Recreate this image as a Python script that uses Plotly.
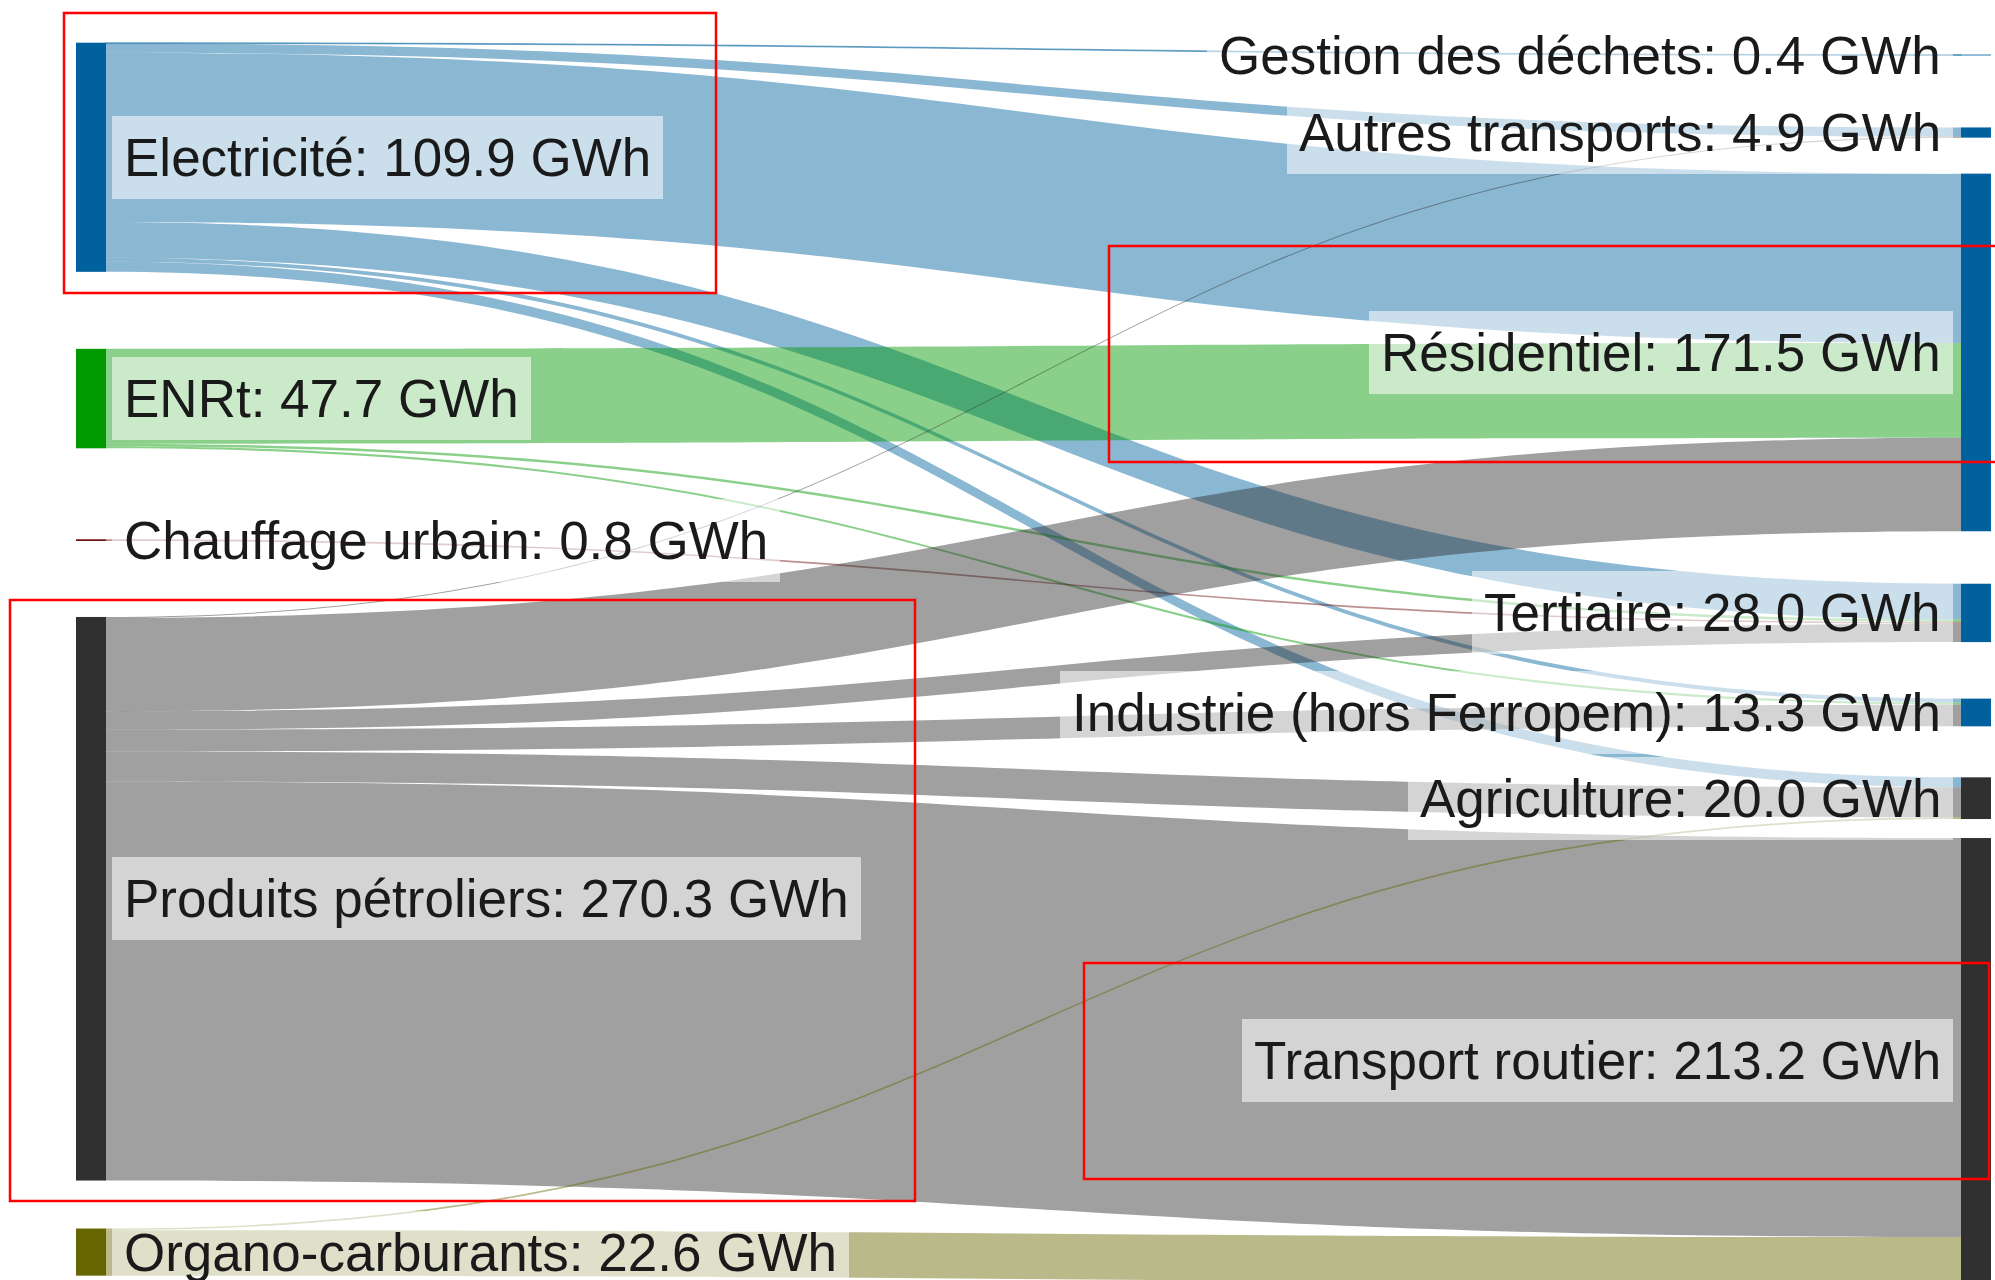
import plotly.graph_objects as go

# ---------------- data ----------------
sources = ["Electricité", "ENRt", "Chauffage urbain", "Produits pétroliers", "Organo-carburants"]
targets = ["Gestion des déchets", "Autres transports", "Résidentiel", "Tertiaire",
           "Industrie (hors Ferropem)", "Agriculture", "Transport routier"]

# flows from each source to each target (GWh), in the order of `targets`
flow_electricite = [0.4, 4.4, 81.2, 17.2, 1.9, 4.8, 0.0]
flow_enrt = [0.0, 0.0, 45.5, 1.2, 1.0, 0.0, 0.0]
flow_chauffage = [0.0, 0.0, 0.0, 0.8, 0.0, 0.0, 0.0]
flow_petrole = [0.0, 0.5, 44.8, 8.8, 10.4, 14.4, 191.4]
flow_organo = [0.0, 0.0, 0.0, 0.0, 0.0, 0.8, 21.8]
unit = "GWh"

flows = [flow_electricite, flow_enrt, flow_chauffage, flow_petrole, flow_organo]

# ---------------- styles / layout ----------------
W, H = 1995, 1280
FONT = "Liberation Sans, Arial, Helvetica, sans-serif"
source_colors = ["#00619e", "#009900", "#6b0a0a", "#303030", "#666600"]
target_colors = ["#00619e", "#00619e", "#00619e", "#00619e", "#00619e", "#303030", "#303030"]
LINK_ALPHA = 0.46
NODE_T = 30
LEFT_X_PX, RIGHT_X_PX = 91, 1976
KY = 2.085                      # px per GWh (same scale the sankey uses)
left_top = 42.7
left_gaps = [77, 91, 76, 48]
right_top = 54.6
right_gaps = [72, 36, 52.5, 56.5, 51, 19]
LABEL_PAD = 12
# highlight rectangles (px in the figure)
highlight_boxes = [(64, 13, 716, 293), (1109, 246, 1998, 462),
                   (10, 600, 915, 1201), (1084, 963, 1989, 1179)]


def hex_rgba(h, a):
    h = h.lstrip("#")
    return "rgba(%d,%d,%d,%.2f)" % (int(h[0:2], 16), int(h[2:4], 16), int(h[4:6], 16), a)


src_tot = [sum(r) for r in flows]
tgt_tot = [sum(r[j] for r in flows) for j in range(len(targets))]
total = sum(src_tot)
PAD = (H - KY * total) / (len(targets) - 1)


def centers(top, totals, gaps):
    out, y = [], top
    for i, v in enumerate(totals):
        h = v * KY
        out.append(y + h / 2)
        y += h + (gaps[i] if i < len(gaps) else 0)
    return out


left_c = centers(left_top, src_tot, left_gaps)
right_c = centers(right_top, tgt_tot, right_gaps)

names = sources + targets
totals = src_tot + tgt_tot
node_x = [LEFT_X_PX / W] * len(sources) + [RIGHT_X_PX / W] * len(targets)
node_y = [c / H for c in left_c + right_c]

link_s, link_t, link_v, link_c = [], [], [], []
for i, row in enumerate(flows):
    for j, v in enumerate(row):
        if v > 0:
            link_s.append(i)
            link_t.append(len(sources) + j)
            link_v.append(v)
            link_c.append(hex_rgba(source_colors[i], LINK_ALPHA))

fig = go.Figure(go.Sankey(
    arrangement="fixed",
    orientation="h",
    domain=dict(x=[0, 1], y=[0, 1]),
    valuesuffix=" " + unit,
    valueformat=".1f",
    node=dict(
        label=["" for _ in names],
        customdata=names,
        hovertemplate="%{customdata}: %{value}<extra></extra>",
        x=node_x, y=node_y,
        pad=PAD, thickness=NODE_T,
        color=source_colors + target_colors,
        line=dict(width=0),
    ),
    link=dict(source=link_s, target=link_t, value=link_v, color=link_c,
              line=dict(width=0)),
))

annotations = []
all_c = left_c + right_c
for k, (nm, tot) in enumerate(zip(names, totals)):
    left = k < len(sources)
    annotations.append(dict(
        xref="paper", yref="paper",
        x=(LEFT_X_PX + NODE_T / 2 + 6) / W if left else (RIGHT_X_PX - NODE_T / 2 - 8) / W,
        y=1 - all_c[k] / H,
        xanchor="left" if left else "right", yanchor="middle",
        text=f"{nm}: {tot:.1f} {unit}",
        showarrow=False,
        font=dict(family=FONT, size=53, color="#1a1a1a"),
        bgcolor="rgba(255,255,255,0.55)",
        borderpad=LABEL_PAD, borderwidth=0,
    ))

shapes = [dict(type="rect", xref="paper", yref="paper",
               x0=x0 / W, x1=x1 / W, y0=1 - y1 / H, y1=1 - y0 / H,
               line=dict(color="#ff0000", width=2.5), fillcolor="rgba(0,0,0,0)")
          for (x0, y0, x1, y1) in highlight_boxes]

fig.update_layout(
    width=W, height=H,
    margin=dict(l=0, r=0, t=0, b=0),
    paper_bgcolor="white", plot_bgcolor="white",
    font=dict(family=FONT),
    annotations=annotations,
    shapes=shapes,
    showlegend=False,
)

fig.write_html("out.html", config={"displayModeBar": False},
               post_script="document.body.style.margin='0';")
